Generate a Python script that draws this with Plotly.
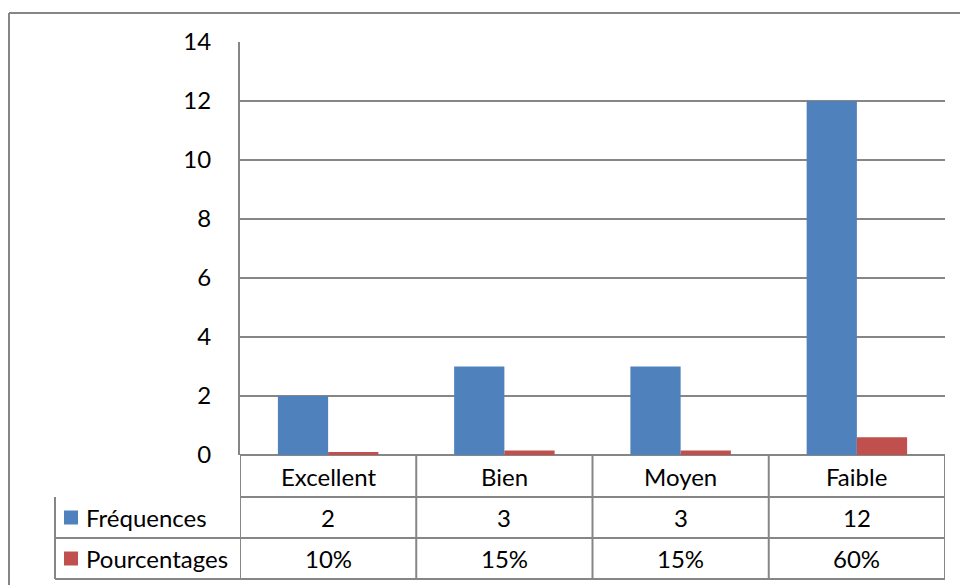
import plotly.graph_objects as go

# Data
categories = ["Excellent", "Bien", "Moyen", "Faible"]
frequences = [2, 3, 3, 12]
pourcentages = [0.10, 0.15, 0.15, 0.60]
series_names = ["Fréquences", "Pourcentages"]
y_ticks = [0, 2, 4, 6, 8, 10, 12, 14]

BLUE = "#4F81BD"
RED = "#C0504D"
GRID = "#868686"
FONT = "Lato"
FS = 24

W, H = 960, 585
ML, MR, MT, MB = 240, 15, 42, 130
PW, PH = W - ML - MR, H - MT - MB


def px_x(px):
    return (px - ML) / PW


def px_y(py):
    return (H - MB - py) / PH


xs = list(range(len(categories)))

fig = go.Figure()
fig.add_trace(go.Bar(x=xs, y=frequences, name=series_names[0],
                     marker=dict(color=BLUE, line=dict(width=0))))
fig.add_trace(go.Bar(x=xs, y=pourcentages, name=series_names[1],
                     marker=dict(color=RED, line=dict(width=0))))

shapes = []
annotations = []
line_style = dict(color=GRID, width=2)
text_font = dict(family=FONT, size=FS, color="black")

# Data table rows (pixel rows below the plot)
row_edges = [455, 497, 538, 579]
row_y = [px_y((row_edges[i] + row_edges[i + 1]) / 2) for i in range(3)]

# horizontal table lines
shapes.append(dict(type="line", xref="paper", yref="paper", x0=0, x1=1,
                   y0=px_y(row_edges[1]), y1=px_y(row_edges[1]), line=line_style))
for py in row_edges[2:]:
    shapes.append(dict(type="line", xref="paper", yref="paper", x0=px_x(55), x1=1,
                       y0=px_y(py), y1=px_y(py), line=line_style))
# vertical table lines at category boundaries
for i in range(len(categories) + 1):
    shapes.append(dict(type="line", xref="x", yref="paper", x0=i - 0.5, x1=i - 0.5,
                       y0=px_y(row_edges[-1]), y1=0, line=line_style))
# left edge of series-name column
shapes.append(dict(type="line", xref="paper", yref="paper", x0=px_x(55), x1=px_x(55),
                   y0=px_y(row_edges[-1]), y1=px_y(row_edges[1]), line=line_style))

# outer chart frame (left and top edges)
shapes.append(dict(type="line", xref="paper", yref="paper", x0=px_x(9), x1=px_x(9),
                   y0=px_y(H + 5), y1=px_y(13), line=line_style))
shapes.append(dict(type="line", xref="paper", yref="paper", x0=px_x(9), x1=px_x(W + 5),
                   y0=px_y(13), y1=px_y(13), line=line_style))


def cell(x, y, text, xref="x", xanchor="center"):
    annotations.append(dict(x=x, y=y, xref=xref, yref="paper", text=text,
                            xanchor=xanchor, yanchor="middle", showarrow=False,
                            font=text_font))


# category labels and values
for i, c in enumerate(categories):
    cell(i, row_y[0], c)
for i, v in enumerate(frequences):
    cell(i, row_y[1], str(v))
for i, v in enumerate(pourcentages):
    cell(i, row_y[2], f"{round(v * 100)}%")

# series names with legend keys
for k, (name, col) in enumerate(zip(series_names, [BLUE, RED])):
    yc = row_y[k + 1]
    shapes.append(dict(type="rect", xref="paper", yref="paper",
                       x0=px_x(64), x1=px_x(78), y0=yc - 7 / PH, y1=yc + 7 / PH,
                       fillcolor=col, line=dict(width=0)))
    cell(px_x(84), yc, name, xref="paper", xanchor="left")

fig.update_layout(
    width=W, height=H,
    margin=dict(l=ML, r=MR, t=MT, b=MB),
    paper_bgcolor="white", plot_bgcolor="white",
    barmode="group", bargap=0.43, bargroupgap=0,
    showlegend=False,
    shapes=shapes, annotations=annotations,
    font=text_font,
    xaxis=dict(range=[-0.5, len(categories) - 0.5], showticklabels=False,
               showgrid=False, zeroline=False, showline=False),
    yaxis=dict(range=[0, 14], tickvals=y_ticks, showgrid=True, gridcolor=GRID,
               gridwidth=2, zeroline=True, zerolinecolor=GRID, zerolinewidth=2,
               showline=True, linecolor=GRID, linewidth=2,
               ticks="", ticklabelstandoff=22,
               tickfont=text_font),
)

fig.write_html("out.html")
